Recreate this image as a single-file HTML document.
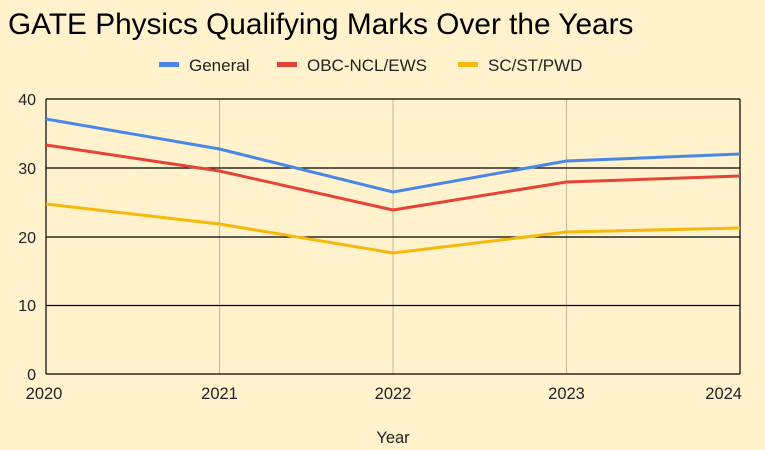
<!DOCTYPE html>
<html><head><meta charset="utf-8"><style>
body{margin:0;background:#fff2cc;}
svg{display:block;font-family:"Liberation Sans",Arial,sans-serif;}
</style></head><body>
<svg width="765" height="450" viewBox="0 0 765 450">
<rect width="765" height="450" fill="#fff2cc"/>
<text x="8" y="34" font-size="29.8" fill="#000">GATE Physics Qualifying Marks Over the Years</text>
<rect x="159" y="62" width="20" height="5" fill="#4a86e8"/>
<text x="189" y="71" font-size="17" fill="#222">General</text>
<rect x="277" y="62" width="20" height="5" fill="#e54335"/>
<text x="307" y="71" font-size="17" fill="#222">OBC-NCL/EWS</text>
<rect x="458" y="62" width="20" height="5" fill="#f6b80b"/>
<text x="488" y="71" font-size="17" fill="#222">SC/ST/PWD</text>
<g stroke="#c0b69a" stroke-width="1">
<line x1="219.5" y1="99" x2="219.5" y2="374"/>
<line x1="393" y1="99" x2="393" y2="374"/>
<line x1="566.5" y1="99" x2="566.5" y2="374"/>
</g>
<g stroke="#000" stroke-width="1.2">
<line x1="46" y1="99" x2="740" y2="99"/>
<line x1="46" y1="168" x2="740" y2="168"/>
<line x1="46" y1="237" x2="740" y2="237"/>
<line x1="46" y1="305.5" x2="740" y2="305.5"/>
<line x1="46" y1="374" x2="740" y2="374"/>
<line x1="46" y1="99" x2="46" y2="374"/>
<line x1="740" y1="99" x2="740" y2="374"/>
</g>
<g fill="none" stroke-width="3" stroke-linejoin="round">
<polyline stroke="#f6b80b" points="46,204 219.5,224 393,253 566.5,232 740,228"/>
<polyline stroke="#e54335" points="46,145 219.5,171 393,210 566.5,182 740,176"/>
<polyline stroke="#4a86e8" points="46,119 219.5,149 393,192 566.5,161 740,154"/>
</g>
<g font-size="16" fill="#222" text-anchor="end">
<text x="36" y="105">40</text>
<text x="36" y="174">30</text>
<text x="36" y="243">20</text>
<text x="36" y="311">10</text>
<text x="36" y="380">0</text>
</g>
<g font-size="16.5" fill="#222" text-anchor="middle">
<text x="44" y="399">2020</text>
<text x="219.5" y="399">2021</text>
<text x="393" y="399">2022</text>
<text x="566.5" y="399">2023</text>
<text x="742" y="399" text-anchor="end">2024</text>
<text x="393" y="443">Year</text>
</g>
</svg>
</body></html>
